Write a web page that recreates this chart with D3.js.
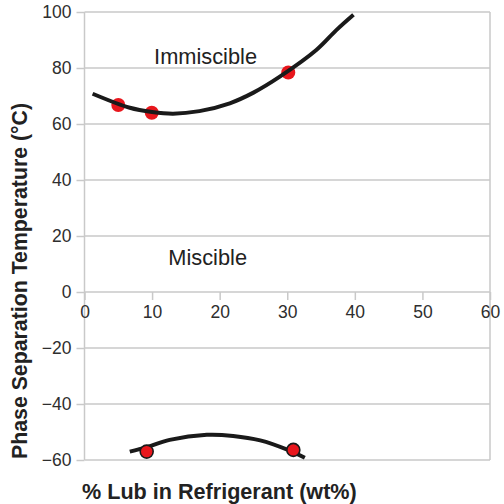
<!DOCTYPE html>
<html>
<head>
<meta charset="utf-8">
<script src="https://cdn.jsdelivr.net/npm/d3@7"></script>
<style>
  html, body { margin: 0; padding: 0; background: #fff; }
  svg { display: block; font-family: "Liberation Sans", Arial, Helvetica, sans-serif; }
</style>
</head>
<body>
<svg id="chart" width="504" height="504"></svg>
<script>
// ---- data ----
const xTicks = [0, 10, 20, 30, 40, 50, 60];
const yTicks = [100, 80, 60, 40, 20, 0, -20, -40, -60];
const upperPoints = [[5, 66.8], [9.95, 64.0], [30.15, 78.4]];
const lowerPoints = [[9.2, -57.0], [30.9, -56.4]];
const upperCurve = [[1.2, 70.8], [6.7, 65.8], [10, 64.3], [13.1, 63.7], [17, 64.6], [21.5, 67.4], [25, 71.2], [28.9, 76.9], [34.3, 86.4], [37.3, 93.6], [39.8, 99]];
const lowerCurve = [[6.7, -57.0], [9.2, -55.4], [12.6, -52.8], [18.1, -51.0], [22, -51.4], [26, -53.0], [30, -56.3], [32.6, -59.2]];
const regionLabels = [
  { text: "Immiscible", x: 10.3, y: 81.3 },
  { text: "Miscible", x: 12.4, y: 9.6 }
];
const xTitle = "% Lub in Refrigerant (wt%)";
const yTitle = "Phase Separation Temperature (°C)";

// ---- layout ----
const svg = d3.select("#chart");
const x = d3.scaleLinear().domain([0, 60]).range([84.5, 490]);
const y = d3.scaleLinear().domain([-60, 100]).range([460, 12]);
const gridColor = "#c9c9c9";

// gridlines
svg.append("g")
  .selectAll("line")
  .data(yTicks)
  .join("line")
  .attr("x1", x(0)).attr("x2", x(60))
  .attr("y1", d => y(d)).attr("y2", d => y(d))
  .attr("stroke", gridColor).attr("stroke-width", 1.5);

// frame verticals
svg.append("line").attr("x1", x(0)).attr("x2", x(0)).attr("y1", y(100)).attr("y2", y(-60))
  .attr("stroke", gridColor).attr("stroke-width", 1.5);
svg.append("line").attr("x1", x(60)).attr("x2", x(60)).attr("y1", y(100)).attr("y2", y(-60))
  .attr("stroke", gridColor).attr("stroke-width", 1.5);

// y axis
const yAxis = svg.append("g")
  .attr("transform", `translate(${x(0)},0)`)
  .call(d3.axisLeft(y).tickValues(yTicks).tickSize(8).tickPadding(5).tickFormat(d3.format("d")));
yAxis.select(".domain").remove();
yAxis.selectAll(".tick line").attr("stroke", gridColor).attr("stroke-width", 1.5);
yAxis.selectAll(".tick text").attr("fill", "#2e2e2e").style("font-size", "17.5px")
  .style("font-family", "'Liberation Sans', Arial, sans-serif");

// x axis at y = 0
const xAxis = svg.append("g")
  .attr("transform", `translate(0,${y(0)})`)
  .call(d3.axisBottom(x).tickValues(xTicks).tickSize(8).tickPadding(6).tickFormat(d3.format("d")));
xAxis.select(".domain").remove();
xAxis.selectAll(".tick line").attr("stroke", gridColor).attr("stroke-width", 1.5);
xAxis.selectAll(".tick text").attr("fill", "#2e2e2e").style("font-size", "17.5px")
  .style("font-family", "'Liberation Sans', Arial, sans-serif");

// upper points (beneath curve)
svg.append("g").selectAll("circle")
  .data(upperPoints)
  .join("circle")
  .attr("cx", d => x(d[0])).attr("cy", d => y(d[1]))
  .attr("r", 7).attr("fill", "#e8161c");

const line = d3.line().x(d => x(d[0])).y(d => y(d[1])).curve(d3.curveCatmullRom.alpha(0.5));

svg.append("path").datum(upperCurve).attr("d", line)
  .attr("fill", "none").attr("stroke", "#1a1a1a").attr("stroke-width", 4).attr("stroke-linecap", "butt");
svg.append("path").datum(lowerCurve).attr("d", line)
  .attr("fill", "none").attr("stroke", "#1a1a1a").attr("stroke-width", 4).attr("stroke-linecap", "butt");

// lower points (on top, outlined)
svg.append("g").selectAll("circle")
  .data(lowerPoints)
  .join("circle")
  .attr("cx", d => x(d[0])).attr("cy", d => y(d[1]))
  .attr("r", 6.5).attr("fill", "#e8161c").attr("stroke", "#1a1a1a").attr("stroke-width", 1.6);

// region labels
svg.append("g").selectAll("text")
  .data(regionLabels)
  .join("text")
  .attr("x", d => x(d.x)).attr("y", d => y(d.y))
  .attr("fill", "#222").style("font-size", "21.8px")
  .text(d => d.text);

// axis titles
svg.append("text")
  .attr("x", 82).attr("y", 499)
  .attr("fill", "#222").style("font-size", "21.6px").style("font-weight", "bold")
  .text(xTitle);
svg.append("text")
  .attr("transform", "translate(27,459) rotate(-90)")
  .attr("fill", "#222").style("font-size", "21.3px").style("font-weight", "bold")
  .text(yTitle);
</script>
</body>
</html>
